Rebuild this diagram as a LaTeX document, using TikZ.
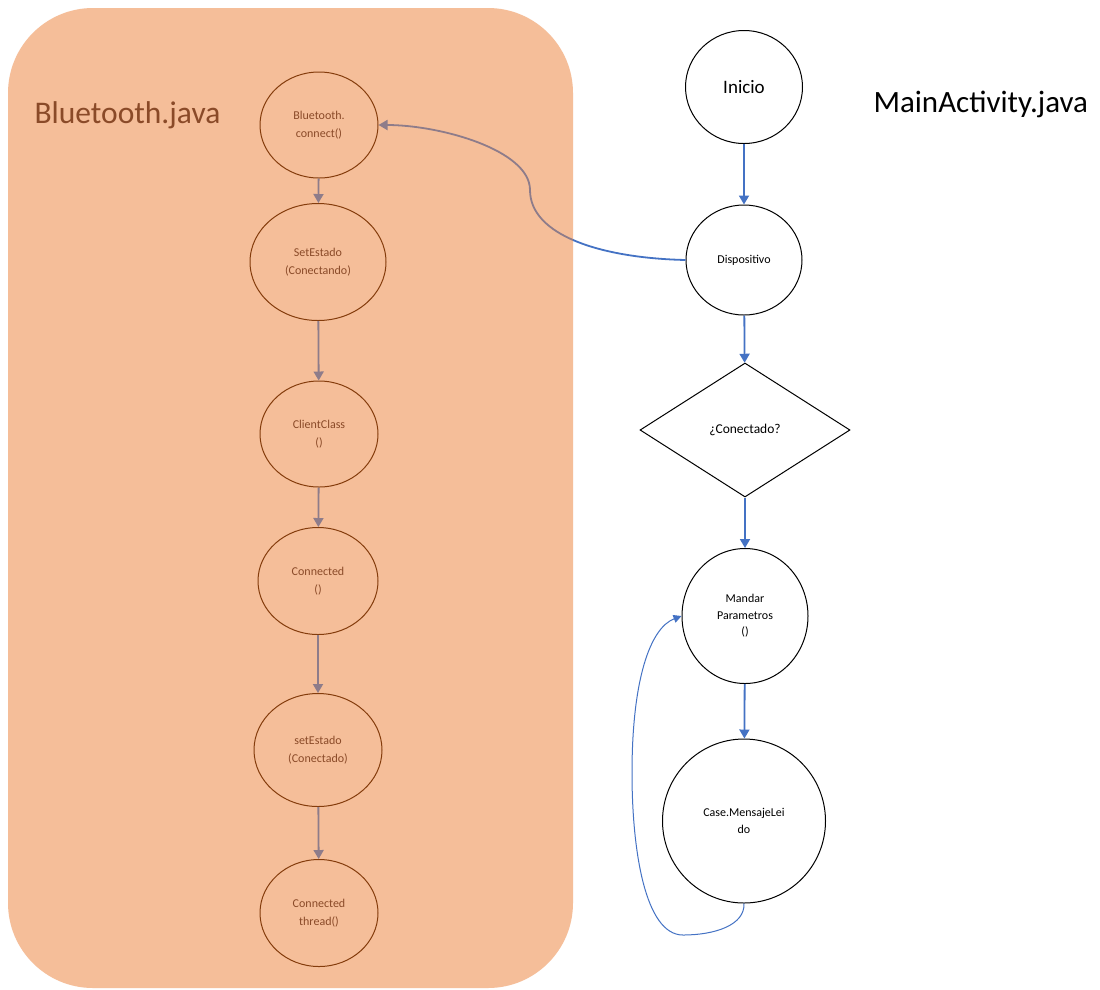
\documentclass[tikz,border=0pt]{standalone}
\usepackage{fontspec}
\setmainfont{Carlito}
\usetikzlibrary{shapes.geometric,arrows.meta}
\definecolor{orfill}{HTML}{F5BE99}
\definecolor{brn}{HTML}{843C0C}
\definecolor{brntext}{HTML}{8A4A28}
\definecolor{arrgray}{HTML}{8E7C8A}
\definecolor{blu}{HTML}{4472C4}
\begin{document}
\begin{tikzpicture}[x=1pt,y=-1pt,
 lnode/.style={ellipse,draw=brn,line width=1pt,text=brntext,font=\fontsize{12}{18}\selectfont,align=center,inner sep=0pt},
 rnode/.style={ellipse,draw=black,line width=1pt,font=\fontsize{12}{16.5}\selectfont,align=center,inner sep=0pt},
 garr/.style={draw=arrgray,line width=1.8pt,-{Triangle[width=10pt,length=9pt]}},
 barr/.style={draw=blu,line width=1.8pt,-{Triangle[width=10pt,length=9pt]}},
 thinb/.style={draw=blu,line width=1pt,-{Triangle[width=8pt,length=8pt]}}]
\useasboundingbox (0,0) rectangle (1100,989);
\fill[white] (0,0) rectangle (1100,989);
\fill[orfill, rounded corners=85pt] (8,8) rectangle (573,988);

\node[font=\fontsize{31.5}{36}\selectfont, text=brntext, anchor=west] (bjava) at (31,115) {Bluetooth.java};
\node[font=\fontsize{31}{36}\selectfont, anchor=west] (mjava) at (870,104) {MainActivity.java};

% left chain
\node[lnode, minimum width=118pt, minimum height=106pt] (b1) at (319,125) {Bluetooth.\\connect()};
\node[lnode, minimum width=136pt, minimum height=117pt] (b2) at (318,262) {SetEstado\\(Conectando)};
\node[lnode, minimum width=118pt, minimum height=106pt] (b3) at (319,434) {ClientClass\\()};
\node[lnode, minimum width=120pt, minimum height=107pt] (b4) at (318,581) {Connected\\()};
\node[lnode, minimum width=128pt, minimum height=113pt] (b5) at (318,750) {setEstado\\(Conectado)};
\node[lnode, minimum width=118pt, minimum height=107pt] (b6) at (319,913) {Connected\\thread()};

\draw[garr] (b1) -- (b2);
\draw[garr] (b2) -- (b3);
\draw[garr] (b3) -- (b4);
\draw[garr] (b4) -- (b5);
\draw[garr] (b5) -- (b6);

% right chain
\node[rnode, minimum width=117pt, minimum height=113pt, font=\fontsize{19}{22}\selectfont] (ini) at (744,87) {Inicio};
\node[rnode, minimum width=116pt, minimum height=110pt] (disp) at (744,260) {Dispositivo};
\node[diamond, draw=black, line width=1pt, minimum width=210pt, minimum height=134pt, inner sep=0pt, aspect=1.57, font=\fontsize{13.5}{16}\selectfont] (con) at (745,430) {¿Conectado?};
\node[rnode, minimum width=126pt, minimum height=135pt] (man) at (745,616) {Mandar\\Parametros\\()};
\node[rnode, minimum width=163pt, minimum height=164pt] (cas) at (744,821) {Case.MensajeLei\\do};

\draw[barr] (ini) -- (disp);
\draw[barr] (disp) -- (con);
\draw[barr] (con) -- (man);
\draw[barr] (man) -- (cas);

% curve Dispositivo -> Bluetooth.connect (blue outside the box, grey inside)
\begin{scope}
\clip (573,0) rectangle (1100,989);
\draw[line width=1.8pt, draw=blu] (disp.west) .. controls (600,258) and (530,235) .. (530,190) .. controls (530,150) and (440,125) .. (b1.east);
\end{scope}
\begin{scope}
\clip (0,0) rectangle (573,989);
\draw[garr] (disp.west) .. controls (600,258) and (530,235) .. (530,190) .. controls (530,150) and (440,125) .. (b1.east);
\end{scope}

% loop
\draw[thinb] (cas.south) .. controls (745,925) and (715,935) .. (683,935) .. controls (645,935) and (632,850) .. (632,773) .. controls (632,680) and (650,628) .. (man.west);
\end{tikzpicture}
\end{document}
